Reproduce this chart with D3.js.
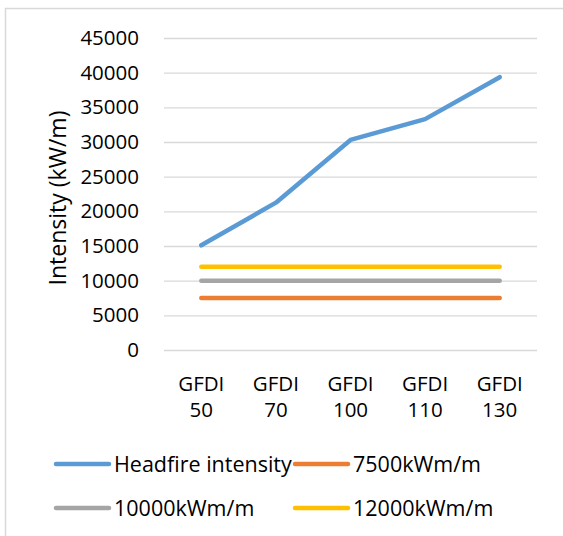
<!DOCTYPE html>
<html><head><meta charset="utf-8">
<script src="https://cdn.jsdelivr.net/npm/d3@7"></script>
<style>body{margin:0;background:#fff}svg{display:block}text{font-family:"Open Sans",sans-serif;fill:#000}</style>
</head><body><svg id="c" width="563" height="536"></svg>
<script>
const categories = ["GFDI 50","GFDI 70","GFDI 100","GFDI 110","GFDI 130"];
const headfire = [15100,21250,30300,33300,39350];
const thr7500 = [7500,7500,7500,7500,7500];
const thr10000 = [10000,10000,10000,10000,10000];
const thr12000 = [12000,12000,12000,12000,12000];
const yTicks = [0,5000,10000,15000,20000,25000,30000,35000,40000,45000];
const seriesNames = ["Headfire intensity","7500kWm/m","10000kWm/m","12000kWm/m"];
const colors = ["#5B9BD5","#ED7D31","#A5A5A5","#FFC000"];

const svg = d3.select("#c");
svg.append("rect").attr("x",5.5).attr("y",8.5).attr("width",600).attr("height",600)
  .attr("fill","none").attr("stroke","#D9D9D9").attr("stroke-width",1.5);

const x = d3.scaleBand().domain(categories).range([164,537]);
const y = d3.scaleLinear().domain([0,45000]).range([350,38]);

const yAxis = svg.append("g").attr("transform","translate(164,0)")
  .call(d3.axisLeft(y).tickValues(yTicks).tickSize(-(537-164)).tickPadding(25).tickFormat(d3.format("d")));
yAxis.select(".domain").remove();
yAxis.selectAll(".tick line").attr("stroke","#D9D9D9").attr("stroke-width",1.3);
yAxis.selectAll(".tick text").attr("font-size",20.5).attr("font-family","Open Sans").attr("fill","#000");

const xAxis = svg.append("g").attr("transform","translate(0,350)")
  .call(d3.axisBottom(x).tickSize(0).tickFormat(""));
xAxis.select(".domain").remove();
xAxis.selectAll(".tick").each(function(d){
  const parts = d.split(" ");
  const t = d3.select(this).append("text").attr("font-size",20.5).attr("text-anchor","middle").attr("fill","#000");
  t.append("tspan").attr("x",0).attr("y",41).text(parts[0]);
  t.append("tspan").attr("x",0).attr("y",67).text(parts[1]);
});

svg.append("text").attr("transform","translate(66,198) rotate(-90)")
  .attr("text-anchor","middle").attr("font-size",23).text("Intensity (kW/m)");

const line = d3.line().x((d,i)=>x(categories[i])+x.bandwidth()/2).y(d=>y(d));
const allSeries = [headfire,thr7500,thr10000,thr12000];
[3,2,1,0].forEach(k=>{
  svg.append("path").attr("d",line(allSeries[k])).attr("fill","none")
    .attr("stroke",colors[k]).attr("stroke-width",4.5).attr("stroke-linecap","round").attr("stroke-linejoin","round");
});

const legendPos = [[54,464],[293,464],[54,508],[293,508]];
seriesNames.forEach((n,k)=>{
  const [lx,ly] = legendPos[k];
  svg.append("line").attr("x1",lx+2).attr("x2",lx+55).attr("y1",ly).attr("y2",ly)
    .attr("stroke",colors[k]).attr("stroke-width",4.5).attr("stroke-linecap","round");
  svg.append("text").attr("x",lx+60).attr("y",ly+8).attr("font-size",21.5).text(n);
});
</script></body></html>
